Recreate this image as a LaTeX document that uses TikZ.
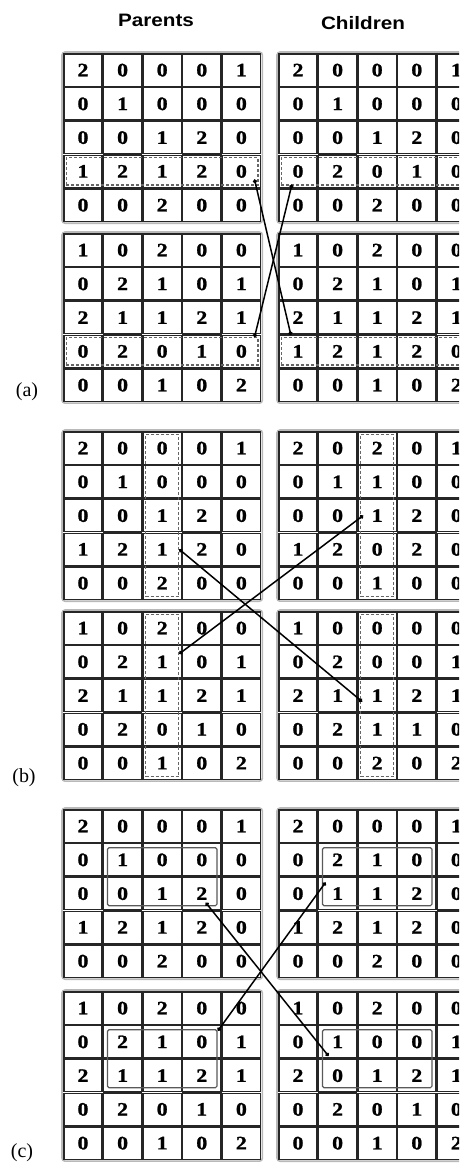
\documentclass[tikz,border=0pt]{standalone}
\usepackage{fontspec}
\setmainfont{Liberation Serif}
\newfontfamily\titrefont{Liberation Sans}
\newfontfamily\chiffrefont{Liberation Serif}[UprightFont=* Bold, FakeStretch=1.15, FakeBold=1.2]
\usetikzlibrary{matrix,fit,arrows.meta}

\tikzset{
  grille/.style={matrix of nodes, anchor=north west, draw=gray!55, line width=1.6pt,
    rounded corners=3pt, inner sep=1.2pt, outer sep=0pt, column sep=0pt, row sep=0pt, nodes={case}},
  case/.style={draw=black!85, line width=1.4pt, rounded corners=0pt, minimum width=38.2pt,
    minimum height=32.3pt, inner sep=0pt, outer sep=0pt, font=\chiffrefont\fontsize{19}{19}\selectfont},
  zone/.style={draw=gray!80!black, densely dashed, line width=1.2pt, rounded corners=0pt, inner sep=-2.5pt},
  cadre/.style={draw=gray!70!black, line width=1.2pt, rounded corners=1.5pt, inner sep=-4pt},
  lien/.style={line width=1.5pt, {Circle[length=4pt]}-{Circle[length=4pt]}},
  titre/.style={font=\titrefont\fontsize{18}{18}\selectfont\bfseries, xscale=1.15},
  etiq/.style={font=\fontsize{20}{20}\selectfont},
}

\begin{document}
\begin{tikzpicture}[x=1pt, y=-1pt]
  \useasboundingbox (0,0) rectangle (459,1163);
  \clip (0,0) rectangle (459,1163);

  % Titres
  \node[titre] (tp) at (156,20) {Parents};
  \node[titre] (tc) at (363,23) {Children};

  % --- PANEL (a) ---
  \matrix (pa1) [grille] at (62,52) {
    2 & 0 & 0 & 0 & 1 \\
    0 & 1 & 0 & 0 & 0 \\
    0 & 0 & 1 & 2 & 0 \\
    1 & 2 & 1 & 2 & 0 \\
    0 & 0 & 2 & 0 & 0 \\
  };
  \matrix (pa2) [grille] at (62,232) {
    1 & 0 & 2 & 0 & 0 \\
    0 & 2 & 1 & 0 & 1 \\
    2 & 1 & 1 & 2 & 1 \\
    0 & 2 & 0 & 1 & 0 \\
    0 & 0 & 1 & 0 & 2 \\
  };
  \matrix (ca1) [grille] at (277,52) {
    2 & 0 & 0 & 0 & 1 \\
    0 & 1 & 0 & 0 & 0 \\
    0 & 0 & 1 & 2 & 0 \\
    0 & 2 & 0 & 1 & 0 \\
    0 & 0 & 2 & 0 & 0 \\
  };
  \matrix (ca2) [grille] at (277,232) {
    1 & 0 & 2 & 0 & 0 \\
    0 & 2 & 1 & 0 & 1 \\
    2 & 1 & 1 & 2 & 1 \\
    1 & 2 & 1 & 2 & 0 \\
    0 & 0 & 1 & 0 & 2 \\
  };

  % Zones echangees
  \node[zone, fit=(pa1-4-1)(pa1-4-5)] (za1) {};
  \node[zone, fit=(pa2-4-1)(pa2-4-5)] (za2) {};
  \node[zone, fit=(ca1-4-1)(ca1-4-5)] (za3) {};
  \node[zone, fit=(ca2-4-1)(ca2-4-5)] (za4) {};

  % Liens
  \coordinate (a1) at ([shift={(-6,8)}]pa1-4-5.east);
  \coordinate (a2) at ([shift={(12,0)}]ca2-4-1.north west);
  \coordinate (a3) at ([shift={(-6,2)}]pa2-4-5.north east);
  \coordinate (a4) at ([shift={(13,-3)}]ca1-4-1.south west);
  \draw[lien] (a1) -- (a2);
  \draw[lien] (a3) -- (a4);

  \node[etiq] (la) at (27,392) {(a)};

  % --- PANEL (b) ---
  \matrix (pb1) [grille] at (62,430) {
    2 & 0 & 0 & 0 & 1 \\
    0 & 1 & 0 & 0 & 0 \\
    0 & 0 & 1 & 2 & 0 \\
    1 & 2 & 1 & 2 & 0 \\
    0 & 0 & 2 & 0 & 0 \\
  };
  \matrix (pb2) [grille] at (62,610) {
    1 & 0 & 2 & 0 & 0 \\
    0 & 2 & 1 & 0 & 1 \\
    2 & 1 & 1 & 2 & 1 \\
    0 & 2 & 0 & 1 & 0 \\
    0 & 0 & 1 & 0 & 2 \\
  };
  \matrix (cb1) [grille] at (277,430) {
    2 & 0 & 2 & 0 & 1 \\
    0 & 1 & 1 & 0 & 0 \\
    0 & 0 & 1 & 2 & 0 \\
    1 & 2 & 0 & 2 & 0 \\
    0 & 0 & 1 & 0 & 0 \\
  };
  \matrix (cb2) [grille] at (277,610) {
    1 & 0 & 0 & 0 & 0 \\
    0 & 2 & 0 & 0 & 1 \\
    2 & 1 & 1 & 2 & 1 \\
    0 & 2 & 1 & 1 & 0 \\
    0 & 0 & 2 & 0 & 2 \\
  };

  % Zones echangees
  \node[zone, fit=(pb1-1-3)(pb1-5-3)] (zb1) {};
  \node[zone, fit=(pb2-1-3)(pb2-5-3)] (zb2) {};
  \node[zone, fit=(cb1-1-3)(cb1-5-3)] (zb3) {};
  \node[zone, fit=(cb2-1-3)(cb2-5-3)] (zb4) {};

  % Liens
  \coordinate (b1) at ([shift={(-2,0)}]pb1-4-3.east);
  \coordinate (b2) at ([shift={(4,6)}]cb2-3-3.west);
  \coordinate (b3) at ([shift={(-2,-8)}]pb2-2-3.east);
  \coordinate (b4) at ([shift={(5,0)}]cb1-3-3.west);
  \draw[lien] (b1) -- (b2);
  \draw[lien] (b3) -- (b4);

  \node[etiq] (lb) at (24,778) {(b)};

  % --- PANEL (c) ---
  \matrix (pc1) [grille] at (62,808) {
    2 & 0 & 0 & 0 & 1 \\
    0 & 1 & 0 & 0 & 0 \\
    0 & 0 & 1 & 2 & 0 \\
    1 & 2 & 1 & 2 & 0 \\
    0 & 0 & 2 & 0 & 0 \\
  };
  \matrix (pc2) [grille] at (62,990) {
    1 & 0 & 2 & 0 & 0 \\
    0 & 2 & 1 & 0 & 1 \\
    2 & 1 & 1 & 2 & 1 \\
    0 & 2 & 0 & 1 & 0 \\
    0 & 0 & 1 & 0 & 2 \\
  };
  \matrix (cc1) [grille] at (277,808) {
    2 & 0 & 0 & 0 & 1 \\
    0 & 2 & 1 & 0 & 0 \\
    0 & 1 & 1 & 2 & 0 \\
    1 & 2 & 1 & 2 & 0 \\
    0 & 0 & 2 & 0 & 0 \\
  };
  \matrix (cc2) [grille] at (277,990) {
    1 & 0 & 2 & 0 & 0 \\
    0 & 1 & 0 & 0 & 1 \\
    2 & 0 & 1 & 2 & 1 \\
    0 & 2 & 0 & 1 & 0 \\
    0 & 0 & 1 & 0 & 2 \\
  };

  % Blocs echanges
  \node[cadre, fit=(pc1-2-2)(pc1-3-4)] (zc1) {};
  \node[cadre, fit=(pc2-2-2)(pc2-3-4)] (zc2) {};
  \node[cadre, fit=(cc1-2-2)(cc1-3-4)] (zc3) {};
  \node[cadre, fit=(cc2-2-2)(cc2-3-4)] (zc4) {};

  % Liens
  \coordinate (c1) at ([shift={(4,-7)}]pc1-3-4.south);
  \coordinate (c2) at ([shift={(10,-2)}]cc2-2-2.south west);
  \coordinate (c3) at ([shift={(-3,5)}]pc2-2-4.north east);
  \coordinate (c4) at ([shift={(7,5)}]cc1-3-2.north west);
  \draw[lien] (c1) -- (c2);
  \draw[lien] (c3) -- (c4);

  \node[etiq] (lc) at (22,1153) {(c)};
\end{tikzpicture}
\end{document}
